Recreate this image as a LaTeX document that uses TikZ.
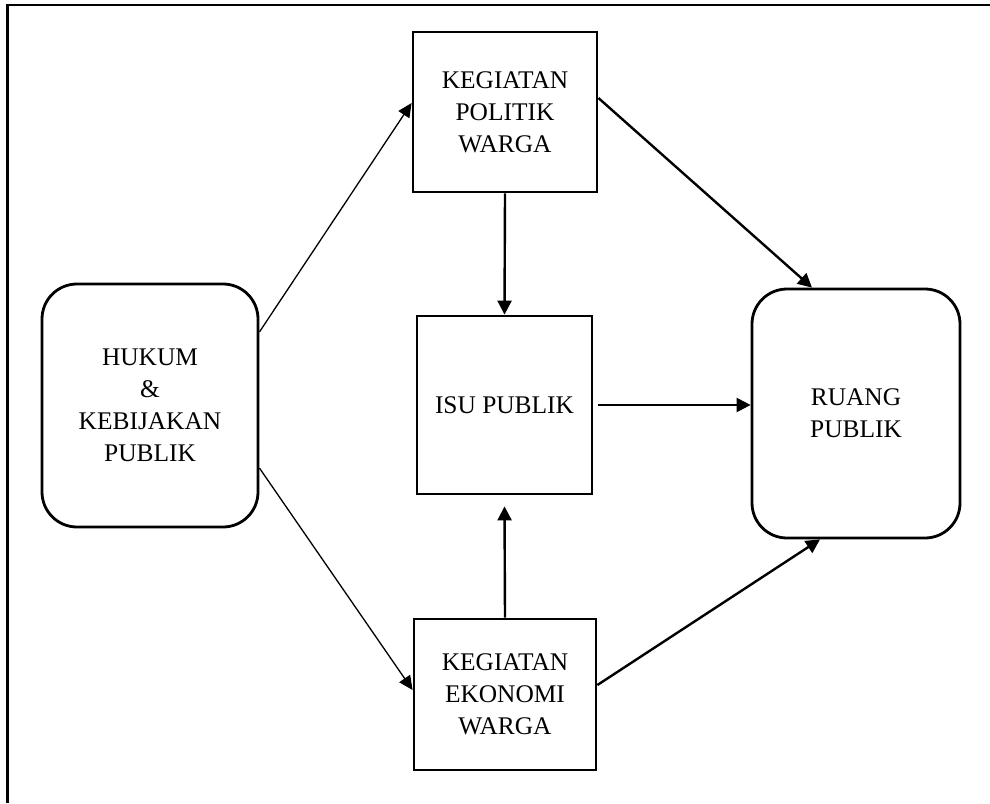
\documentclass[tikz,border=0pt]{standalone}
\usepackage{fontspec}
\setmainfont{Liberation Serif}
\usetikzlibrary{arrows.meta}
\begin{document}
\begin{tikzpicture}[x=1pt,y=-1pt,
  box/.style={draw,line width=2.8pt,inner sep=0pt,align=center,
    font=\fontsize{25.4}{32}\selectfont},
  rbox/.style={box,rounded corners=35pt},
  thickarrow/.style={line width=2.4pt,-{Triangle[length=14pt,width=14pt]}},
  thinarrow/.style={line width=1.3pt,-{Triangle[length=14pt,width=13pt]}},
  frame/.style={line width=2.6pt}]
\useasboundingbox (0,0) rectangle (990,803);
\coordinate (fa) at (7.5,803);
\coordinate (fb) at (7.5,5);
\coordinate (fc) at (990,5);
\draw[frame] (fa) -- (fb) -- (fc);

\node[rbox,minimum width=216pt,minimum height=243pt] (huk) at (150,405.5) {HUKUM\\\&\\KEBIJAKAN\\PUBLIK};
\node[box,minimum width=184pt,minimum height=160pt] (pol) at (505,112) {KEGIATAN\\POLITIK\\WARGA};
\node[box,minimum width=175pt,minimum height=178pt] (isu) at (504.5,405) {ISU PUBLIK};
\node[box,minimum width=182pt,minimum height=151pt] (eko) at (505,694.5) {KEGIATAN\\EKONOMI\\WARGA};
\node[rbox,minimum width=208pt,minimum height=249pt] (rua) at (856,413.5) {RUANG\\PUBLIK};

\draw[thinarrow] ([yshift=73.5pt]huk.east) -- ([yshift=9pt]pol.west);
\draw[thinarrow] ([yshift=-62.5pt]huk.east) -- ([yshift=4.5pt]eko.west);
\draw[thickarrow] (pol.south) -- (isu.north);
\draw[thickarrow] (eko.north) -- ([yshift=-11pt]isu.south);
\draw[thickarrow] ([xshift=5pt]isu.east) -- (isu.east -| rua.west);
\draw[thickarrow] ([yshift=14pt]pol.east) -- ([xshift=-44pt]rua.north);
\draw[thickarrow] ([yshift=9.5pt]eko.east) -- ([xshift=-36pt]rua.south);
\end{tikzpicture}
\end{document}
